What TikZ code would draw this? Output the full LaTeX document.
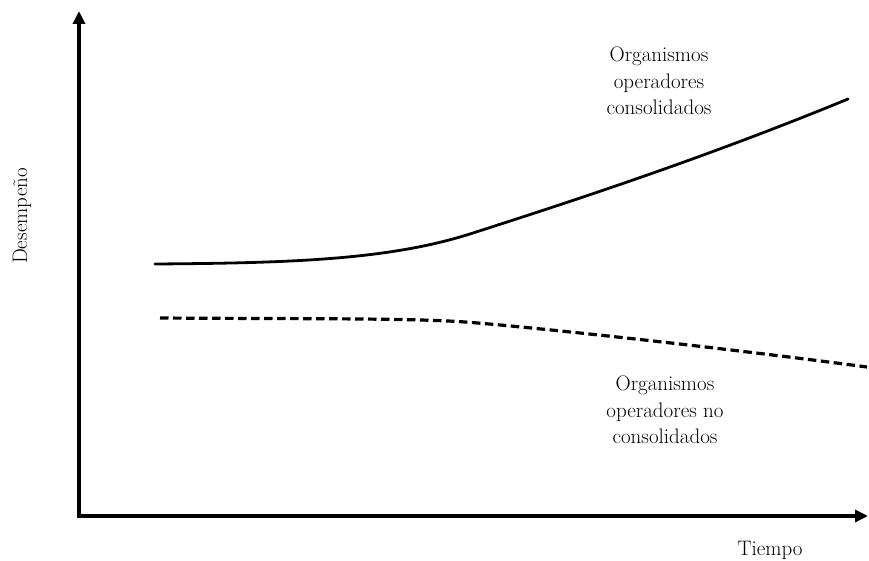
\documentclass[tikz,border=0pt]{standalone}
\usetikzlibrary{arrows.meta}
\begin{document}
\begin{tikzpicture}[x=1pt,y=-1pt,
  axis/.style={line width=3.6pt,-{Triangle[length=13pt,width=12pt]}},
  curvesolid/.style={line width=2.8pt,line cap=round},
  curvedashed/.style={line width=3.2pt,dash pattern=on 8.5pt off 4.5pt},
  lbl/.style={font=\fontsize{21}{26.5}\selectfont,align=center,inner sep=0pt}]
\useasboundingbox (0,0) rectangle (869,561);
\coordinate (O) at (79,516);
\coordinate (Ytop) at (79,11);
\coordinate (Xend) at (868,516);
\coordinate (s0) at (155,264);
\coordinate (s1) at (473,233);
\coordinate (s2) at (848,99);
\coordinate (d0) at (160,318);
\coordinate (d1) at (465,322);
\coordinate (d2) at (867,367);
\draw[axis] ([yshift=1.8pt]O) -- (Ytop);
\draw[axis] ([xshift=-1.8pt]O) -- (Xend);
\draw[curvesolid] (s0) .. controls (290,263) and (390,260) .. (s1) .. controls (560,205) and (700,160) .. (s2);
\draw[curvedashed] (d0) .. controls (300,319) and (410,318) .. (d1) .. controls (520,326) and (700,345) .. (d2);
\node[lbl] (top) at (659,81) {Organismos\\operadores\\consolidados};
\node[lbl] (bot) at (665,410) {Organismos\\operadores no\\consolidados};
\node[lbl,rotate=90] (ylab) at (22,216) {Desempeño};
\node[lbl] (xlab) at (770,550) {Tiempo};
\end{tikzpicture}
\end{document}
